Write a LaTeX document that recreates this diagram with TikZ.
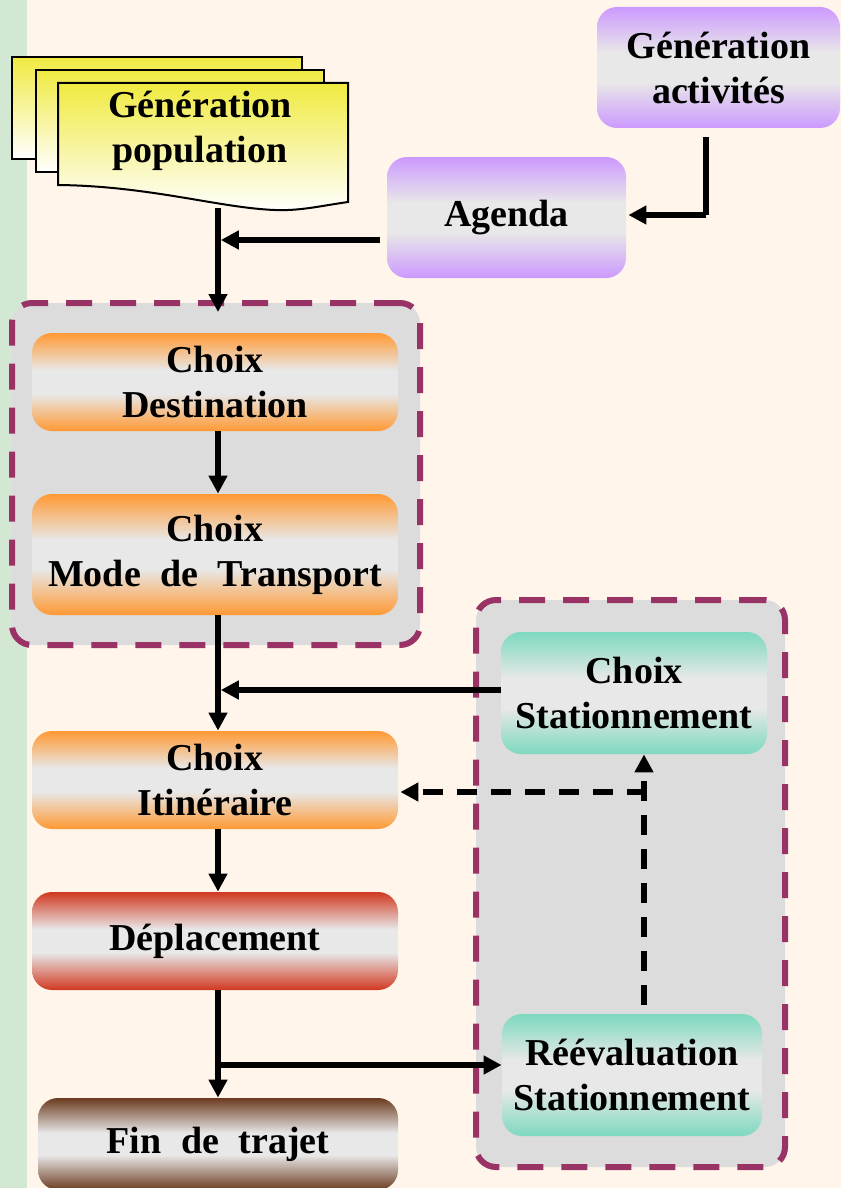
\documentclass[tikz,border=0pt]{standalone}
\usepackage{fontspec}
\setmainfont{Liberation Serif}
\usetikzlibrary{arrows.meta,calc}
\definecolor{bgcream}{HTML}{FFF5EA}
\definecolor{strip}{HTML}{D3E8D3}
\definecolor{grpfill}{HTML}{DCDCDC}
\definecolor{grpline}{HTML}{993366}
\definecolor{midgrey}{HTML}{E8E8E8}
\definecolor{cor}{HTML}{FF9933}
\definecolor{cpu}{HTML}{CC99FF}
\definecolor{cte}{HTML}{7DD9BF}
\definecolor{cre}{HTML}{D03820}
\definecolor{cbr}{HTML}{6B3A1F}
\definecolor{cye}{HTML}{F0EA40}
\pgfdeclareverticalshading{shor}{100bp}{color(0bp)=(cor); color(25bp)=(cor); color(44bp)=(midgrey); color(56bp)=(midgrey); color(75bp)=(cor); color(100bp)=(cor)}
\pgfdeclareverticalshading{shpu}{100bp}{color(0bp)=(cpu); color(25bp)=(cpu); color(44bp)=(midgrey); color(56bp)=(midgrey); color(75bp)=(cpu); color(100bp)=(cpu)}
\pgfdeclareverticalshading{shte}{100bp}{color(0bp)=(cte); color(25bp)=(cte); color(44bp)=(midgrey); color(56bp)=(midgrey); color(75bp)=(cte); color(100bp)=(cte)}
\pgfdeclareverticalshading{shre}{100bp}{color(0bp)=(cre); color(25bp)=(cre); color(44bp)=(midgrey); color(56bp)=(midgrey); color(75bp)=(cre); color(100bp)=(cre)}
\pgfdeclareverticalshading{shbr}{100bp}{color(0bp)=(cbr); color(25bp)=(cbr); color(44bp)=(midgrey); color(56bp)=(midgrey); color(75bp)=(cbr); color(100bp)=(cbr)}
\begin{document}
\begin{tikzpicture}[x=0.5pt,y=-0.5pt,
  txt/.style={align=center,font=\fontsize{19}{22.5}\selectfont\bfseries,text=black},
  box/.style={txt,rounded corners=10pt,inner sep=0pt},
  orbox/.style={box,shading=shor},
  pubox/.style={box,shading=shpu},
  tebox/.style={box,shading=shte},
  rebox/.style={box,shading=shre},
  brbox/.style={box,shading=shbr},
  grp/.style={draw=grpline,fill=grpfill,line width=3pt,dash pattern=on 13pt off 9pt,rounded corners=10pt,inner sep=0pt},
  sheet/.style={draw=black,line width=1pt,top color=cye,bottom color=white},
  arr/.style={line width=2.8pt,-{Triangle[length=9pt,width=9pt]}},
  ln/.style={line width=2.8pt},
  darr/.style={line width=2.8pt,dash pattern=on 10pt off 7pt,-{Triangle[length=9pt,width=9pt]}}
]
\useasboundingbox (0,0) rectangle (841,1188);
\fill[bgcream] (0,0) rectangle (841,1188);
\fill[strip] (0,0) rectangle (27,1188);
% document stack
\path[sheet] (12,57) rectangle (302,159);
\path[sheet] (36,70) rectangle (324,172);
\path[sheet] (58,83) -- (348,83) -- (348,202) .. controls (320,206) and (300,211) .. (275,210) .. controls (220,208) and (150,186) .. (58,185) -- cycle;
\node[txt] (pop) at (200,131) {Génération\\population};
% groups
\node[grp,minimum width=204pt,minimum height=171pt] (g1) at (216,474) {};
\node[grp,minimum width=154.5pt,minimum height=283.5pt] (g2) at (630.5,883.5) {};
% boxes
\node[pubox,minimum width=121.5pt,minimum height=60.5pt] (act) at (718.5,67.5) {Génération\\activités};
\node[pubox,minimum width=119.5pt,minimum height=60.5pt] (agenda) at (506.5,217.5) {\raisebox{-2pt}{Agenda}};
\node[orbox,minimum width=183pt,minimum height=49pt] (dest) at (215,382) {Choix\\Destination};
\node[orbox,minimum width=183pt,minimum height=60.5pt] (mode) at (215,554.5) {Choix\\Mode\hspace{5pt} de\hspace{5pt} Transport};
\node[orbox,minimum width=183pt,minimum height=49pt] (itin) at (215,780) {Choix\\Itinéraire};
\node[rebox,minimum width=183pt,minimum height=49pt] (depl) at (215,941) {Déplacement};
\node[brbox,minimum width=180pt,minimum height=46pt] (fin) at (218,1144) {\raisebox{2pt}{Fin\hspace{5pt} de\hspace{5pt} trajet}};
\node[tebox,minimum width=133pt,minimum height=61pt] (cstat) at (634,693) {Choix\\Stationnement};
\node[tebox,minimum width=130pt,minimum height=61pt] (reval) at (632,1075) {Réévaluation\\Stationnement};
% junction coordinates
\coordinate (popb) at (218,208);
\coordinate (c1) at (706,215);
\coordinate (j1) at (218,240);
\coordinate (j3) at (218,690);
\coordinate (j2) at (218,1065);
\coordinate (c3) at (644,792);
% connectors
\draw[ln] ([yshift=-4.5pt]act.south -| c1) -- (c1);
\draw[arr] (c1) -- ([xshift=1pt]agenda.east |- c1);
\draw[arr] (popb) -- ([yshift=-6pt]g1.north -| popb);
\draw[arr] ([xshift=-3.5pt]agenda.west |- j1) -- ([xshift=1.4pt]j1);
\draw[arr] (dest.south -| popb) -- (mode.north -| popb);
\draw[arr] (mode.south -| popb) -- (itin.north -| popb);
\draw[arr] (cstat.west |- j3) -- ([xshift=1.4pt]j3);
\draw[arr] (itin.south -| popb) -- (depl.north -| popb);
\draw[arr] (depl.south -| popb) -- (fin.north -| popb);
\draw[arr] ([xshift=-1.4pt]j2) -- (reval.west |- j2);
\draw[darr] ([yshift=4.5pt]reval.north -| c3) -- (cstat.south -| c3);
\draw[darr] ([xshift=1.4pt]c3) -- ([xshift=1pt]itin.east |- c3);
\end{tikzpicture}
\end{document}
